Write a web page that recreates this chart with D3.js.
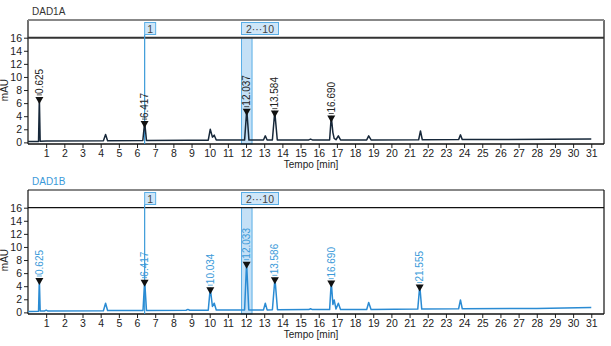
<!DOCTYPE html>
<html><head><meta charset="utf-8">
<script src="https://cdn.jsdelivr.net/npm/d3@7/dist/d3.min.js"></script>
<style>body{margin:0;background:#fff}svg{display:block;font-family:"Liberation Sans",Arial,sans-serif}</style>
</head><body><svg id="c" width="611" height="346"></svg>
<script>
const xTicks = d3.range(1, 32);
const yTicks = [0, 2, 4, 6, 8, 10, 12, 14, 16];
const titles = ["DAD1A", "DAD1B"];
const traceA = [[0,0.12],[0.58,0.15],[0.625,6.8],[0.67,0.18],[1,0.2],[4.15,0.25],[4.27,1.2],[4.38,0.25],[6.32,0.28],[6.42,3.1],[6.52,0.3],[8.8,0.32],[9.92,0.33],[10.03,2.0],[10.15,0.8],[10.25,1.1],[10.36,0.35],[11.92,0.35],[12.04,5.0],[12.16,0.35],[12.96,0.35],[13.06,1.0],[13.16,0.35],[13.45,0.36],[13.58,4.7],[13.72,0.36],[15.45,0.38],[15.55,0.5],[15.65,0.38],[16.6,0.38],[16.69,3.95],[16.78,1.5],[16.85,0.6],[16.95,0.4],[17.08,1.0],[17.2,0.38],[18.64,0.38],[18.75,1.0],[18.88,0.38],[21.5,0.4],[21.6,1.75],[21.7,0.4],[23.7,0.42],[23.8,1.15],[23.9,0.42],[31,0.5]];
const traceB = [[0,0.12],[0.58,0.18],[0.625,5.1],[0.67,0.2],[0.9,0.2],[1.0,0.35],[1.1,0.2],[4.15,0.25],[4.27,1.4],[4.38,0.28],[6.33,0.3],[6.42,4.85],[6.52,0.3],[8.7,0.32],[8.8,0.45],[8.9,0.33],[9.92,0.33],[10.03,3.7],[10.15,0.9],[10.25,1.4],[10.36,0.35],[11.92,0.35],[12.03,7.6],[12.15,0.38],[12.96,0.38],[13.06,1.4],[13.16,0.38],[13.45,0.4],[13.59,5.2],[13.73,0.4],[15.45,0.42],[15.55,0.55],[15.65,0.42],[16.6,0.42],[16.69,4.7],[16.78,1.2],[16.85,1.9],[16.95,0.5],[17.08,1.4],[17.2,0.45],[18.64,0.45],[18.75,1.5],[18.88,0.45],[21.45,0.5],[21.56,4.1],[21.67,0.5],[23.7,0.55],[23.8,1.9],[23.9,0.55],[28,0.6],[31,0.75]];
const peaksA = [[0.625,6.8,"0.625"],[6.417,3.1,"6.417"],[12.037,5.0,"12.037"],[13.584,4.7,"13.584"],[16.690,3.95,"16.690"]];
const peaksB = [[0.625,5.1,"0.625"],[6.417,4.85,"6.417"],[10.034,3.7,"10.034"],[12.033,7.6,"12.033"],[13.586,5.2,"13.586"],[16.690,4.7,"16.690"],[21.555,4.1,"21.555"]];
const markerLines = [[6.42, "1"]];
const markerBands = [[11.75, 12.33, "2···10"]];

const svg = d3.select("#c");
const x = d3.scaleLinear().domain([0, 31.7]).range([28, 604]);
const blue = "#3a9ad9";
const panels = [
  {off: 0, trace: traceA, peaks: peaksA, color: "#17283a", lab: "#222", titleColor: "#333", topColor: "#888", topW: 2, lineW: 2, lineC: "#333"},
  {off: 170, trace: traceB, peaks: peaksB, color: "#2a8bd3", lab: blue, titleColor: blue, topColor: "#111", topW: 1, lineW: 1.2, lineC: "#111"}
];
panels.forEach((p, i) => {
  const g = svg.append("g").attr("transform", `translate(0,${p.off})`);
  const y = d3.scaleLinear().domain([-0.25, 16]).range([144, 37.7]);
  markerBands.forEach(b => {
    g.append("rect").attr("x", x(b[0])).attr("y", y(16)).attr("width", x(b[1]) - x(b[0])).attr("height", 144 - y(16))
      .attr("fill", "#c4e0f6").attr("stroke", "#5aaee6").attr("stroke-width", 1);
  });
  const ya = d3.axisLeft(y).tickValues(yTicks).tickSize(4).tickPadding(2);
  const yg = g.append("g").attr("transform", "translate(28,0)").call(ya);
  yg.select(".domain").remove();
  yg.selectAll("text").attr("font-size", 10.5).attr("fill", "#222").attr("font-family", "Liberation Sans, Arial");
  yg.selectAll("line").attr("stroke", "#222");
  const xa = d3.axisBottom(x).tickValues(xTicks).tickSize(4).tickPadding(2).tickFormat(d3.format("d"));
  const xg = g.append("g").attr("transform", "translate(0,144)").call(xa);
  xg.select(".domain").remove();
  xg.selectAll("text").attr("font-size", 10.5).attr("fill", "#222").attr("font-family", "Liberation Sans, Arial");
  xg.selectAll("line").attr("stroke", "#222");
  g.append("line").attr("x1", 28).attr("x2", 604).attr("y1", 144).attr("y2", 144).attr("stroke", "#111").attr("stroke-width", 1.3);
  g.append("line").attr("x1", 28).attr("x2", 28).attr("y1", 20).attr("y2", 144).attr("stroke", "#111").attr("stroke-width", 1.2);
  g.append("line").attr("x1", 604).attr("x2", 604).attr("y1", 20).attr("y2", 144).attr("stroke", "#111").attr("stroke-width", 1.2);
  g.append("line").attr("x1", 28).attr("x2", 604).attr("y1", 20).attr("y2", 20).attr("stroke", p.topColor).attr("stroke-width", p.topW);
  g.append("line").attr("x1", 28).attr("x2", 604).attr("y1", y(16)).attr("y2", y(16)).attr("stroke", p.lineC).attr("stroke-width", p.lineW);
  markerLines.forEach(m => {
    g.append("line").attr("x1", x(m[0])).attr("x2", x(m[0])).attr("y1", 34.5).attr("y2", 144).attr("stroke", blue).attr("stroke-width", 1.2);
    g.append("rect").attr("x", x(m[0])).attr("y", 22.5).attr("width", 11).attr("height", 12).attr("fill", "#cfe6f8").attr("stroke", "#5aaee6");
    g.append("text").attr("x", x(m[0]) + 5.5).attr("y", 32.5).attr("text-anchor", "middle").attr("font-size", 10.5).attr("fill", "#444").text(m[1]);
  });
  markerBands.forEach(b => {
    g.append("rect").attr("x", x(b[0])).attr("y", 22.5).attr("width", 37).attr("height", 12).attr("fill", "#cfe6f8").attr("stroke", "#5aaee6");
    g.append("text").attr("x", x(b[0]) + 18.5).attr("y", 32.5).attr("text-anchor", "middle").attr("font-size", 10.5).attr("fill", "#444").text(b[2]);
  });
  const line = d3.line().x(d => x(d[0])).y(d => y(d[1]));
  g.append("path").datum(p.trace).attr("d", line).attr("fill", "none").attr("stroke", p.color).attr("stroke-width", 1.5).attr("stroke-linejoin", "round");
  p.peaks.forEach(pk => {
    const px = x(pk[0]), py = y(pk[1]);
    g.append("path").attr("d", `M${px - 4},${py - 1}L${px + 4},${py - 1}L${px},${py + 6}Z`).attr("fill", "#111");
    g.append("line").attr("x1", px - 2.5).attr("x2", px + 2.5).attr("y1", py - 3).attr("y2", py - 3).attr("stroke", p.lab).attr("stroke-width", 0.8);
    g.append("text").attr("transform", `translate(${px},${py - 4}) rotate(-90)`).attr("text-anchor", "start").attr("dominant-baseline", "central")
      .attr("font-size", 10).attr("fill", p.lab).text(pk[2]);
  });
  g.append("text").attr("x", 32).attr("y", 14.5).attr("font-size", 10).attr("fill", p.titleColor).text(titles[i]);
  g.append("text").attr("transform", `translate(4,${y(8)}) rotate(-90)`).attr("text-anchor", "middle").attr("dominant-baseline", "central").attr("font-size", 10).attr("fill", "#222").text("mAU");
  g.append("text").attr("x", 311).attr("y", 168).attr("text-anchor", "middle").attr("font-size", 10).attr("fill", "#222").text("Tempo [min]");
});
</script></body></html>
